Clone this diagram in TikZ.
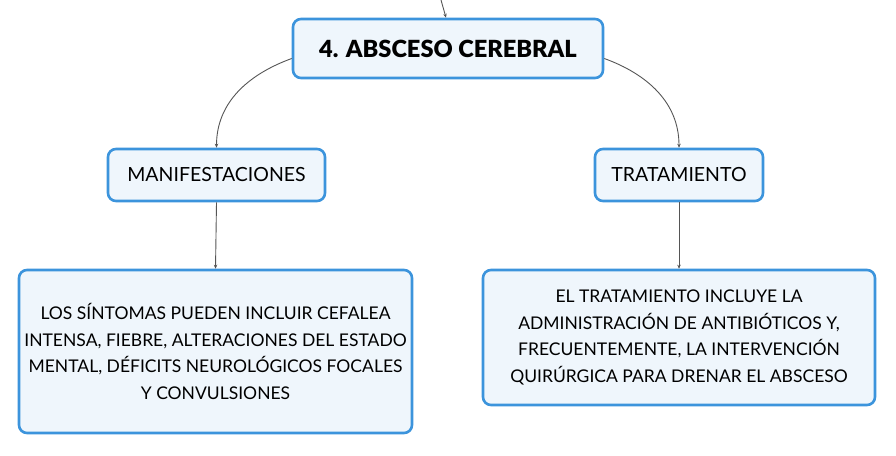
\documentclass[tikz,border=0pt]{standalone}
\usepackage{fontspec}
\setmainfont{Lato}
\newfontfamily\heavyfont{Lato Black}
\usetikzlibrary{arrows.meta}

\definecolor{boxline}{HTML}{3C94DC}
\definecolor{boxfill}{HTML}{EFF6FC}
\definecolor{linkgray}{HTML}{555555}

\tikzset{
  topic/.style={draw=boxline, fill=boxfill, line width=2.6pt, rounded corners=8pt,
    align=center, inner sep=0pt},
  link/.style={draw=linkgray, line width=0.9pt, -{Stealth[length=4pt,width=3.5pt]}}
}

\begin{document}
\begin{tikzpicture}[x=1pt,y=-1pt]
\useasboundingbox (0,0) rectangle (896,455);

%% nodes
\node[topic, minimum width=310pt, minimum height=59pt, font=\fontsize{23.6}{28}\heavyfont]
  (title) at (448,48.5) {4. ABSCESO CEREBRAL};                       %% title
\node[topic, minimum width=217pt, minimum height=52pt, font=\fontsize{19.5}{26}\selectfont]
  (manif) at (216.5,175) {MANIFESTACIONES};                          %% left topic
\node[topic, minimum width=168pt, minimum height=52pt, font=\fontsize{19.5}{26}\selectfont]
  (trat) at (679,175) {TRATAMIENTO};                                 %% right topic
\node[topic, minimum width=393pt, minimum height=163pt, font=\fontsize{17.5}{26.5}\selectfont]
  (sintomas) at (215.5,351.5) {LOS SÍNTOMAS PUEDEN INCLUIR CEFALEA\\
  INTENSA, FIEBRE, ALTERACIONES DEL ESTADO\\
  MENTAL, DÉFICITS NEUROLÓGICOS FOCALES\\
  Y CONVULSIONES};                                                   %% left detail
\node[topic, minimum width=392pt, minimum height=135pt, font=\fontsize{17.5}{26.5}\selectfont]
  (terapia) at (679,337.5) {EL TRATAMIENTO INCLUYE LA\\
  ADMINISTRACIÓN DE ANTIBIÓTICOS Y,\\
  FRECUENTEMENTE, LA INTERVENCIÓN\\
  QUIRÚRGICA PARA DRENAR EL ABSCESO};                                %% right detail

%% links
\coordinate (parent) at (441,0);
\draw[link] (parent) -- ([xshift=-2pt]title.north);
\draw[link] ([yshift=-10pt]title.west) to[out=200,in=90] (manif.north);
\draw[link] ([yshift=-10pt]title.east) to[out=-20,in=90] (trat.north);
\draw[link] (manif.south) -- (sintomas.north);
\draw[link] (trat.south) -- (terapia.north);
\end{tikzpicture}
\end{document}
